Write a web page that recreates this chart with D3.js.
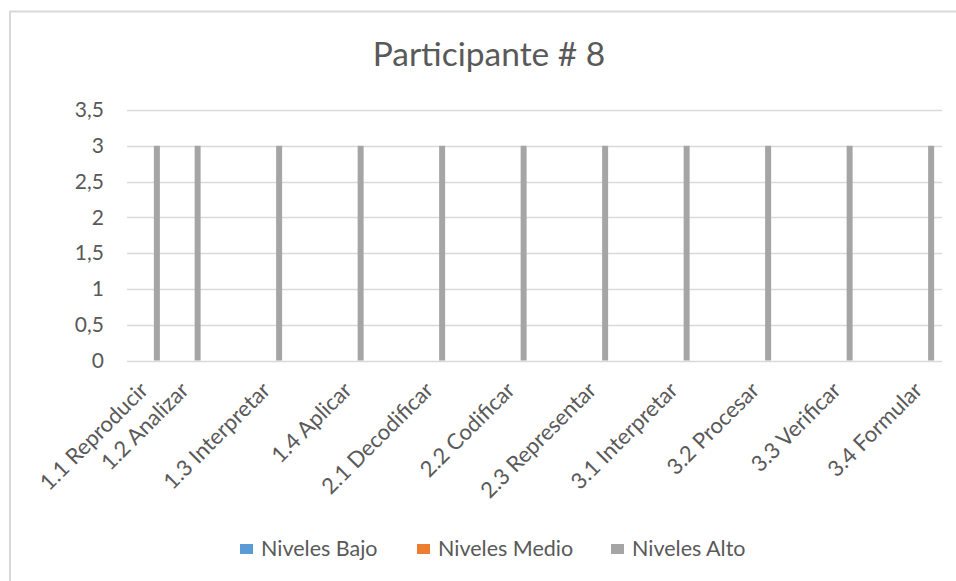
<!DOCTYPE html>
<html><head><meta charset="utf-8">
<script src="https://cdn.jsdelivr.net/npm/d3@7"></script>
<style>
html,body{margin:0;padding:0;background:#fff;}
svg{display:block;font-family:Lato,"Open Sans",sans-serif;}
</style></head><body>
<div id="chart"></div>
<script>
// Data
const categories = ["1.1 Reproducir","1.2 Analizar","","1.3 Interpretar","","1.4 Aplicar","","2.1 Decodificar","","2.2 Codificar","","2.3 Representar","","3.1 Interpretar","","3.2 Procesar","","3.3 Verificar","","3.4 Formular"];
const series = ["Niveles Bajo","Niveles Medio","Niveles Alto"];
const nivelesBajo  = [0,0,null,0,null,0,null,0,null,0,null,0,null,0,null,0,null,0,null,0];
const nivelesMedio = [0,0,null,0,null,0,null,0,null,0,null,0,null,0,null,0,null,0,null,0];
const nivelesAlto  = [3,3,null,3,null,3,null,3,null,3,null,3,null,3,null,3,null,3,null,3];
const yTicks = [0,0.5,1,1.5,2,2.5,3,3.5];
const colors = ["#5b9bd5","#ed7d31","#a5a5a5"];
const title = "Participante # 8";

const W = 956, H = 581;
const svg = d3.select("#chart").append("svg").attr("width",W).attr("height",H);

// chart border (top & left visible)
svg.append("line").attr("x1",9).attr("x2",W).attr("y1",11.5).attr("y2",11.5).attr("stroke","#d9d9d9").attr("stroke-width",2);
svg.append("line").attr("x1",10).attr("x2",10).attr("y1",11).attr("y2",H).attr("stroke","#d9d9d9").attr("stroke-width",2);

const plot = {left:127, right:942, top:110, bottom:360.5};

const x0 = d3.scaleBand().domain(d3.range(categories.length)).range([plot.left, plot.right]);
const x1 = d3.scaleBand().domain(series)
  .range([x0.bandwidth()/2 - 14.25, x0.bandwidth()/2 + 14.25])
  .paddingInner(0.37).paddingOuter(0.185);
const y = d3.scaleLinear().domain([0,3.5]).range([plot.bottom, plot.top]);

const fmt = v => String(v).replace(".", ",");

// gridlines
svg.append("g").selectAll("line").data(yTicks).join("line")
  .attr("x1",plot.left).attr("x2",plot.right)
  .attr("y1",d=>Math.round(y(d))+0.5).attr("y2",d=>Math.round(y(d))+0.5)
  .attr("stroke","#d9d9d9").attr("stroke-width",1.3);

// y axis labels
const yAxis = d3.axisLeft(y).tickValues(yTicks).tickFormat(fmt).tickSize(0).tickPadding(0);
const gy = svg.append("g").attr("transform",`translate(104,0)`).call(yAxis);
gy.select(".domain").remove();
gy.selectAll("text").attr("fill","#595959").style("font-size","21px").style("font-family","Lato,sans-serif");

// bars
const allSeries = [nivelesBajo, nivelesMedio, nivelesAlto];
const rows = [];
allSeries.forEach((vals, si) => vals.forEach((v, ci) => { if (v !== null && v > 0) rows.push({ci, s: series[si], v, c: colors[si]}); }));
svg.append("g").selectAll("rect").data(rows).join("rect")
  .attr("x", d => x0(d.ci) + x1(d.s))
  .attr("width", x1.bandwidth())
  .attr("y", d => y(d.v))
  .attr("height", d => y(0) - y(d.v))
  .attr("fill", d => d.c);

// x axis labels
const xAxis = d3.axisBottom(x0).tickFormat(i => categories[i]).tickSize(0).tickPadding(0);
const gx = svg.append("g").attr("transform",`translate(0,${plot.bottom})`).call(xAxis);
gx.select(".domain").remove();
gx.selectAll("text")
  .attr("fill","#595959").style("font-size","22px").style("font-family","Lato,sans-serif")
  .attr("text-anchor","end").attr("dy",null).attr("y",0)
  .attr("transform","translate(2,31) rotate(-45)");

// title
svg.append("text").attr("x",489).attr("y",66).attr("text-anchor","middle")
  .attr("fill","#595959").style("font-size","33.5px").text(title);

// legend
const legendX = [240, 417, 611];
const lg = svg.append("g").selectAll("g").data(series).join("g")
  .attr("transform",(d,i)=>`translate(${legendX[i]},549)`);
lg.append("rect").attr("x",0).attr("y",-5).attr("width",13).attr("height",10).attr("fill",(d,i)=>colors[i]);
lg.append("text").attr("x",21).attr("y",7).attr("fill","#595959").style("font-size","21.5px").text(d=>d);
</script>
</body></html>
